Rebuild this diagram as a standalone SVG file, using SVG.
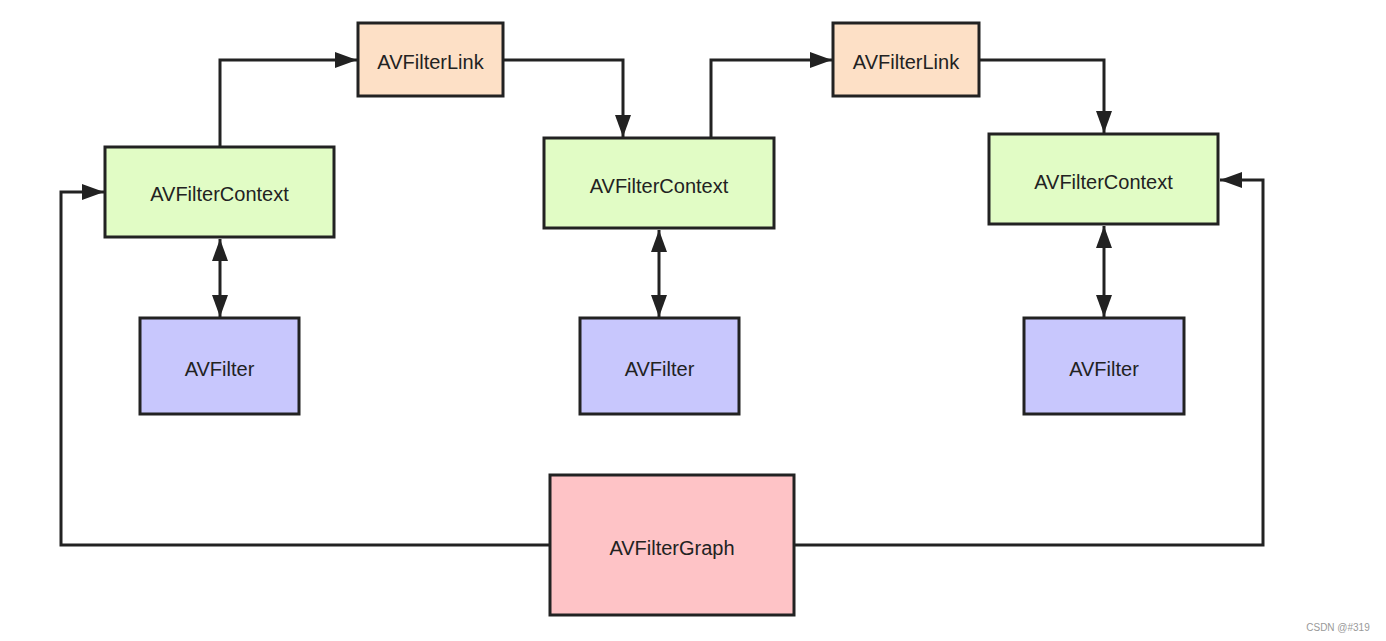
<svg xmlns="http://www.w3.org/2000/svg" width="1386" height="641" viewBox="0 0 1386 641">
<style>
.n{stroke:#222;stroke-width:3}
.ctx{fill:#e1fcc5}
.lnk{fill:#fde0c6}
.flt{fill:#c8c7fd}
.gr{fill:#fec3c6}
text{font-family:"Liberation Sans",Arial,sans-serif;font-size:20px;fill:#222;text-anchor:middle;dominant-baseline:central}
.c{fill:none;stroke:#222;stroke-width:3}
.wm{font-size:10px;fill:#999}
</style>
<defs>
<marker id="ah" viewBox="0 0 22 16" refX="22" refY="8" markerWidth="22" markerHeight="16" markerUnits="userSpaceOnUse" orient="auto-start-reverse">
<path d="M0,0 L22,8 L0,16 Z" fill="#222"/>
</marker>
</defs>
<rect width="1386" height="641" fill="#fff"/>
<g id="connectors">
<path class="c" d="M220,147 V60 H357" marker-end="url(#ah)"/>
<path class="c" d="M503,60 H623 V137" marker-end="url(#ah)"/>
<path class="c" d="M711,138 V60 H832" marker-end="url(#ah)"/>
<path class="c" d="M979,60 H1104 V133" marker-end="url(#ah)"/>
<path class="c" d="M220,239 V317" marker-start="url(#ah)" marker-end="url(#ah)"/>
<path class="c" d="M659,230 V317" marker-start="url(#ah)" marker-end="url(#ah)"/>
<path class="c" d="M1104,226 V317" marker-start="url(#ah)" marker-end="url(#ah)"/>
<path class="c" d="M550,545 H61 V192 H104" marker-end="url(#ah)"/>
<path class="c" d="M794,545 H1263 V180 H1220" marker-end="url(#ah)"/>
</g>
<g id="ctx1"><rect class="n ctx" x="105" y="147" width="229" height="90"/><text x="219.5" y="194">AVFilterContext</text></g>
<g id="link1"><rect class="n lnk" x="358" y="23" width="145" height="73"/><text x="430.5" y="62">AVFilterLink</text></g>
<g id="ctx2"><rect class="n ctx" x="544" y="138" width="230" height="90"/><text x="659" y="186">AVFilterContext</text></g>
<g id="link2"><rect class="n lnk" x="833" y="23" width="146" height="73"/><text x="906" y="62">AVFilterLink</text></g>
<g id="ctx3"><rect class="n ctx" x="989" y="134" width="229" height="90"/><text x="1103.5" y="182">AVFilterContext</text></g>
<g id="filter1"><rect class="n flt" x="140" y="318" width="159" height="96"/><text x="219.5" y="369">AVFilter</text></g>
<g id="filter2"><rect class="n flt" x="580" y="318" width="159" height="96"/><text x="659.5" y="369">AVFilter</text></g>
<g id="filter3"><rect class="n flt" x="1024" y="318" width="160" height="96"/><text x="1104" y="369">AVFilter</text></g>
<g id="graph"><rect class="n gr" x="550" y="475" width="244" height="140"/><text x="672" y="548">AVFilterGraph</text></g>
<text class="wm" x="1338" y="627">CSDN @#319</text>
</svg>
